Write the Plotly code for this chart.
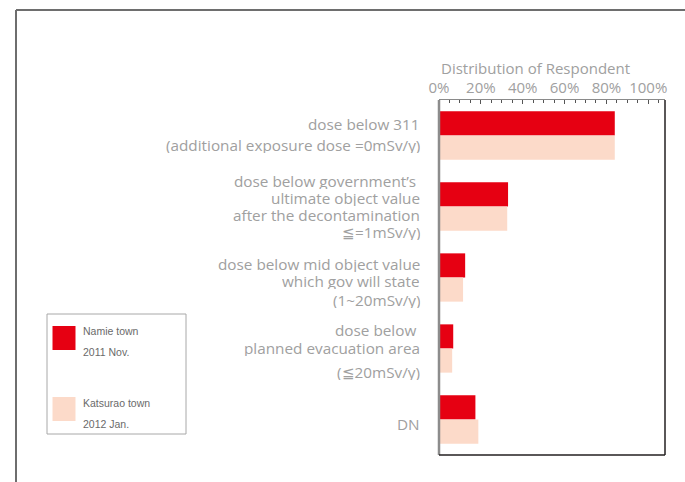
import plotly.graph_objects as go

# ---- data ----
categories = [
    ["dose below 311", "(additional exposure dose =0mSv/y)"],
    ["dose below government’s ", "ultimate object value", "after the decontamination", "≦=1mSv/y)"],
    ["dose below mid object value", "which gov will state", "(1~20mSv/y)"],
    ["dose below ", "planned evacuation area", "(≦20mSv/y)"],
    ["DN"],
]
namie_2011_nov = [84, 33, 12.5, 6.8, 17.4]
katsurao_2012_jan = [84, 32.6, 11.5, 6.3, 18.8]
series_names = [["Namie town", "2011 Nov."], ["Katsurao town", "2012 Jan."]]
tick_values = [0, 20, 40, 60, 80, 100]
tick_labels = ["0%", "20%", "40%", "60%", "80%", "100%"]
axis_title = "Distribution of Respondent"

# ---- layout constants ----
W, H = 685, 482
ML, MR, MT, MB = 439, 20, 100, 27
PW, PH = W - ML - MR, H - MT - MB
RED = "#E60012"
PEACH = "#FCDAC9"
GRAY_TXT = "#a0a0a0"
FONT = "Open Sans"


def px(x):
    return (x - ML) / PW


def py(y):
    return (H - MB - y) / PH


ypos = list(range(len(categories)))

fig = go.Figure()
fig.add_trace(go.Bar(y=ypos, x=namie_2011_nov, orientation="h", marker=dict(color=RED, line=dict(width=0)),
                     name=" ".join(series_names[0])))
fig.add_trace(go.Bar(y=ypos, x=katsurao_2012_jan, orientation="h", marker=dict(color=PEACH, line=dict(width=0)),
                     name=" ".join(series_names[1])))

fig.update_layout(
    width=W, height=H,
    margin=dict(l=ML, r=MR, t=MT, b=MB),
    paper_bgcolor="white", plot_bgcolor="white",
    barmode="group", bargap=0.32, bargroupgap=0,
    showlegend=False,
    font=dict(family=FONT, color=GRAY_TXT),
)
fig.update_xaxes(
    range=[0, 108], side="top", tickmode="array", tickvals=tick_values, ticktext=tick_labels,
    ticks="inside", ticklen=4, tickcolor="#555", tickwidth=1,
    minor=dict(dtick=5, ticks="inside", ticklen=2.5, tickcolor="#555", tickwidth=1),
    showline=True, linecolor="#8a8a8a", linewidth=1,
    showgrid=False, zeroline=False,
    tickfont=dict(family=FONT, size=15, color=GRAY_TXT),
)
fig.update_yaxes(
    range=[len(categories) - 0.5, -0.5], showticklabels=False, showgrid=False,
    zeroline=False, showline=False, ticks="",
)

shapes = []
# plot box: left gray, right & bottom dark
shapes.append(dict(type="line", xref="paper", yref="paper", x0=0, x1=0, y0=0, y1=1,
                   line=dict(color="#8c8c8c", width=2.5)))
shapes.append(dict(type="line", xref="paper", yref="paper", x0=1, x1=1, y0=0, y1=1,
                   line=dict(color="#231f20", width=1.5)))
shapes.append(dict(type="line", xref="paper", yref="paper", x0=0, x1=1, y0=0, y1=0,
                   line=dict(color="#231f20", width=1.5)))
# page frame
shapes.append(dict(type="line", xref="paper", yref="paper", x0=px(16), x1=px(W + 2), y0=py(10), y1=py(10),
                   line=dict(color="#6e6e6e", width=2)))
shapes.append(dict(type="line", xref="paper", yref="paper", x0=px(16), x1=px(16), y0=py(10), y1=py(H + 2),
                   line=dict(color="#6e6e6e", width=2)))
# legend box
shapes.append(dict(type="rect", xref="paper", yref="paper", x0=px(47), x1=px(186), y0=py(434), y1=py(314),
                   line=dict(color="#a8a8a8", width=1), fillcolor="rgba(0,0,0,0)"))
shapes.append(dict(type="rect", xref="paper", yref="paper", x0=px(52.5), x1=px(75.5), y0=py(350), y1=py(326),
                   line=dict(width=0), fillcolor=RED))
shapes.append(dict(type="rect", xref="paper", yref="paper", x0=px(52.5), x1=px(75.5), y0=py(421), y1=py(397),
                   line=dict(width=0), fillcolor=PEACH))

annotations = []
# axis title
annotations.append(dict(text=axis_title, xref="paper", yref="paper", x=px(439), y=py(68),
                        xanchor="left", yanchor="middle", showarrow=False,
                        font=dict(family=FONT, size=15, color=GRAY_TXT)))
# category labels (line by line, pixel positions)
line_y = [
    [123.5, 144.5],
    [180.5, 198, 215, 232],
    [263.5, 281, 299.5],
    [330, 347.5, 371.5],
    [424],
]
for lines, ys in zip(categories, line_y):
    for t, y in zip(lines, ys):
        annotations.append(dict(text=t, xref="paper", yref="paper", x=px(421), y=py(y),
                                xanchor="right", yanchor="middle", showarrow=False,
                                height=16, valign="middle", borderpad=0,
                                font=dict(family=FONT, size=15.3, color=GRAY_TXT)))
# legend texts
leg_y = [[331, 351.5], [402.5, 423.5]]
for names, ys in zip(series_names, leg_y):
    for t, y in zip(names, ys):
        annotations.append(dict(text=t, xref="paper", yref="paper", x=px(80.5), y=py(y),
                                xanchor="left", yanchor="middle", showarrow=False,
                                font=dict(family="Liberation Sans", size=10.5, color="#6a6a6a")))

fig.update_layout(shapes=shapes, annotations=annotations)
fig.write_html("out.html", config={"displayModeBar": False},
               post_script="document.body.style.margin='0px';document.body.style.padding='0px';")
